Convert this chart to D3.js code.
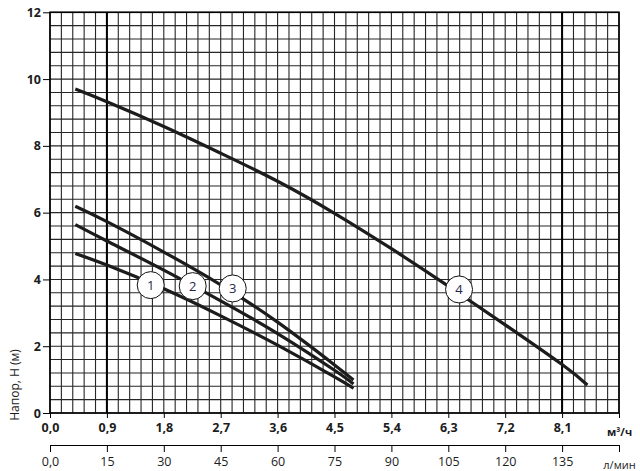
<!DOCTYPE html>
<html><head><meta charset="utf-8">
<script src="https://cdn.jsdelivr.net/npm/d3@7"></script>
<style>
html,body{margin:0;padding:0;background:#fff;}
svg{display:block;font-family:"Open Sans",sans-serif;}
</style></head>
<body><svg id="c" width="640" height="471"></svg>
<script>
// ---- data ----
const flowTicks = [0, 0.9, 1.8, 2.7, 3.6, 4.5, 5.4, 6.3, 7.2, 8.1, 9];
const flowUnit = "м³/ч";
const lminTicks = [0, 15, 30, 45, 60, 75, 90, 105, 120, 135, 150];
const lminUnit = "л/мин";
const headTicks = [0, 2, 4, 6, 8, 10, 12];
const yTitle = "Напор, Н (м)";

const curve1 = [[0.4,4.78],[0.9,4.43],[1.8,3.72],[2.7,2.91],[3.6,2.03],[4.5,1.08],[4.8,0.74]];
const curve2 = [[0.4,5.64],[0.9,5.15],[1.8,4.28],[2.7,3.36],[3.6,2.38],[4.5,1.28],[4.8,0.87]];
const curve3 = [[0.4,6.19],[0.9,5.73],[1.8,4.82],[2.7,3.84],[3.6,2.72],[4.5,1.44],[4.8,0.99]];
const curve4 = [[0.4,9.7],[0.9,9.32],[1.8,8.58],[2.7,7.78],[3.6,6.94],[4.5,5.98],[5.4,4.92],[6.3,3.8],[7.2,2.64],[8.1,1.45],[8.5,0.84]];
const curveNames = ["1","2","3","4"];
const labelPos = [[1.593,3.83],[2.257,3.80],[2.89,3.73],[6.47,3.70]];

// ---- layout ----
const svg = d3.select("#c");
const L = 50, R = 619, T = 12.3, B = 413;
const x = d3.scaleLinear().domain([0, 9]).range([L, R]);
const xl = d3.scaleLinear().domain([0, 150]).range([L, R]);
const y = d3.scaleLinear().domain([0, 12]).range([B, T]);
const ink = "#1c1c1c";

// grid
const g = svg.append("g");
const vx = d3.range(0, 51).map(i => i * 0.18);
const hy = d3.range(0, 31).map(i => i * 0.4);
g.selectAll("line.v").data(vx).join("line")
  .attr("x1", d => x(d)).attr("x2", d => x(d)).attr("y1", y(12)).attr("y2", y(0))
  .attr("stroke", "#262626").attr("stroke-width", 1.1);
g.selectAll("line.h").data(hy).join("line")
  .attr("y1", d => y(d)).attr("y2", d => y(d)).attr("x1", x(0)).attr("x2", x(9))
  .attr("stroke", "#262626").attr("stroke-width", 1.1);
// heavy lines
g.selectAll("line.hv").data([0.9, 8.1]).join("line")
  .attr("x1", d => x(d)).attr("x2", d => x(d)).attr("y1", y(12)).attr("y2", y(0))
  .attr("stroke", "#000").attr("stroke-width", 2);
g.append("rect").attr("x", x(0)).attr("y", y(12)).attr("width", x(9) - x(0)).attr("height", y(0) - y(12))
  .attr("fill", "none").attr("stroke", "#000").attr("stroke-width", 1.6);

// curves
const line = d3.line().x(d => x(d[0])).y(d => y(d[1])).curve(d3.curveNatural);
[curve1, curve2, curve3, curve4].forEach(c => {
  svg.append("path").attr("d", line(c)).attr("fill", "none")
    .attr("stroke", ink).attr("stroke-width", 3.2).attr("stroke-linecap", "butt");
});

// curve labels
const lab = svg.selectAll("g.lab").data(labelPos).join("g")
  .attr("transform", d => `translate(${x(d[0])},${y(d[1])})`);
lab.append("circle").attr("r", 13.5).attr("fill", "#fff").attr("stroke", "#111").attr("stroke-width", 1);
lab.append("text").text((d, i) => curveNames[i]).attr("text-anchor", "middle").attr("dy", "0.36em")
  .attr("font-size", 13).attr("fill", "#26264a");

// y axis
const fmt = d => d3.format(".1f")(d).replace(".", ",");
const yAxis = svg.append("g").attr("transform", `translate(${L},0)`)
  .call(d3.axisLeft(y).tickValues(headTicks).tickSize(7).tickPadding(2).tickFormat(d => d));
yAxis.select(".domain").remove();
yAxis.selectAll("line").attr("stroke", "#000");
yAxis.selectAll("text").attr("font-size", 12.5).attr("font-weight", 700).attr("fill", ink)
  .attr("font-family", "'Open Sans',sans-serif");

svg.append("text").text(yTitle)
  .attr("transform", `translate(19,385) rotate(-90)`).attr("text-anchor", "middle")
  .attr("font-size", 12).attr("fill", ink);

// top flow axis (m3/h)
const xAxis = svg.append("g").attr("transform", `translate(0,${B})`)
  .call(d3.axisBottom(x).tickValues(flowTicks).tickSize(5).tickPadding(5)
    .tickFormat(d => d === 9 ? flowUnit : fmt(d)));
xAxis.select(".domain").remove();
xAxis.selectAll("line").attr("stroke", "#000");
xAxis.selectAll("text").attr("font-size", 12.5).attr("font-weight", 700).attr("fill", ink)
  .attr("font-family", "'Open Sans',sans-serif");
xAxis.selectAll(".tick").filter(d => d === 9).select("text")
  .attr("font-size", 11).attr("dy", "1.2em");

// bottom axis (l/min)
const lAxis = svg.append("g").attr("transform", `translate(0,445)`)
  .call(d3.axisBottom(xl).tickValues(lminTicks).tickSize(7).tickPadding(5)
    .tickFormat(d => d === 150 ? lminUnit : (d === 0 ? "0,0" : d)));
lAxis.select(".domain").attr("stroke", "#000").attr("d", `M${L},0.5H${R}`);
lAxis.selectAll("line").attr("stroke", "#000");
lAxis.selectAll("text").attr("font-size", 12.5).attr("fill", ink)
  .attr("font-family", "'Open Sans',sans-serif");
lAxis.selectAll(".tick").filter(d => d === 150).select("text")
  .attr("font-size", 11).attr("dy", "1.1em");
</script></body></html>
